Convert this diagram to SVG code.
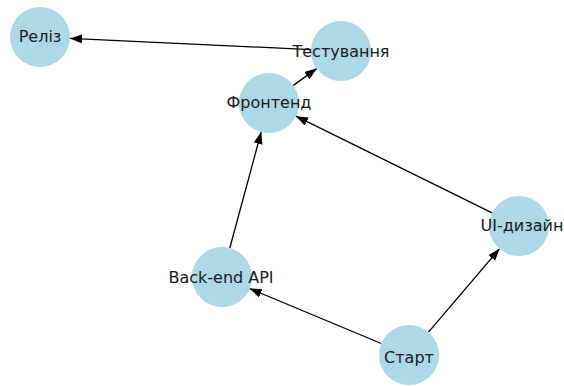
<svg xmlns="http://www.w3.org/2000/svg" width="564" height="386" viewBox="0 0 564 386">
<style>
.node circle{fill:#add8e6;stroke:none}
.node text{font-family:"DejaVu Sans",sans-serif;font-size:16px;fill:#1a1a1a;text-anchor:middle;dominant-baseline:central}
.edges line{stroke:#000;stroke-width:1.3;marker-end:url(#arr)}
</style>
<defs>
<marker id="arr" markerUnits="userSpaceOnUse" markerWidth="12" markerHeight="10" refX="12" refY="4.5" orient="auto">
<path d="M0,0 L12,4.5 L0,9 z" fill="#000"/>
</marker>
</defs>
<rect width="564" height="386" fill="#fff"/>
<g id="edges" class="edges">
<line x1="311" y1="49.6" x2="70" y2="38.4"/>
<line x1="293.3" y1="85.4" x2="316.7" y2="68.6"/>
<line x1="492.1" y1="212.8" x2="295.9" y2="116.2"/>
<line x1="229.8" y1="248" x2="261.2" y2="132"/>
<line x1="381.3" y1="343.5" x2="249.7" y2="288.6"/>
<line x1="428.5" y1="332.2" x2="499.5" y2="248.8"/>
</g>
<g id="n-reliz" class="node"><circle cx="40" cy="37" r="30"/><text x="40" y="36">Реліз</text></g>
<g id="n-test" class="node"><circle cx="341" cy="51" r="30"/><text x="341" y="51">Тестування</text></g>
<g id="n-front" class="node"><circle cx="269" cy="103" r="30"/><text x="269" y="102">Фронтенд</text></g>
<g id="n-ui" class="node"><circle cx="519" cy="226" r="30"/><text x="522" y="225">UI-дизайн</text></g>
<g id="n-back" class="node"><circle cx="222" cy="277" r="30"/><text x="221" y="277">Back-end API</text></g>
<g id="n-start" class="node"><circle cx="409" cy="355" r="30"/><text x="409" y="357">Старт</text></g>
</svg>
